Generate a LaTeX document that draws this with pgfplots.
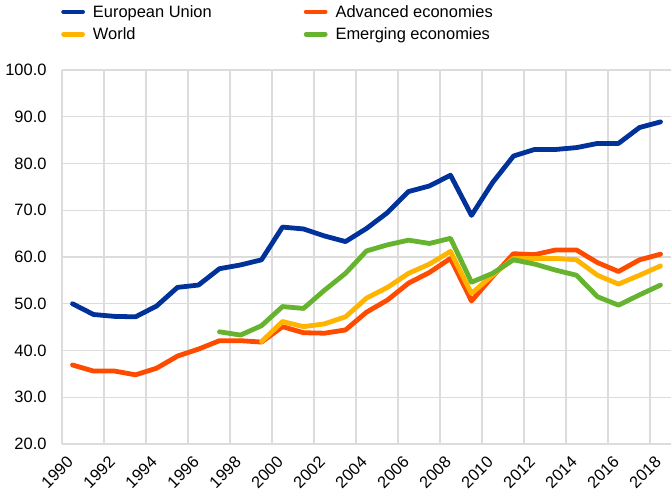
\documentclass[border=0pt]{standalone}
\usepackage{pgfplots}
\pgfplotsset{compat=1.18}
\usepackage{fontspec}
\setmainfont{Liberation Sans}
\definecolor{eublue}{HTML}{003299}
\definecolor{advorange}{HTML}{FF4B00}
\definecolor{worldyellow}{HTML}{FFB400}
\definecolor{emggreen}{HTML}{65B32E}
\definecolor{gridgray}{RGB}{220,220,220}
\begin{document}
\begin{tikzpicture}
\path[use as bounding box] (-62bp,-50bp) rectangle (610bp,444bp);
\begin{axis}[
  at={(0,0)}, anchor=south west,
  scale only axis, width=609bp, height=374bp,
  xmin=1989.5, xmax=2018.5, ymin=20, ymax=100,
  font=\fontsize{16.5}{19}\selectfont,
  axis line style={draw=none},
  xtick={1990,1992,...,2018},
  minor xtick={1989.5,1991.5,...,2017.5},
  xminorgrids=true, xmajorgrids=false,
  ytick={20,30,...,100},
  ymajorgrids=true,
  major tick length=0pt, minor tick length=0pt,
  grid style={draw=gridgray, line width=1.3bp},
  minor grid style={draw=gridgray, line width=1.3bp},
  /pgf/number format/assume math mode=true,
  yticklabel style={/pgf/number format/fixed, /pgf/number format/fixed zerofill, /pgf/number format/precision=1, xshift=-12bp},
  xticklabel style={/pgf/number format/1000 sep={}, xshift=0bp, yshift=-13bp, rotate=45, anchor=east},
  legend columns=2,
  legend cell align=left,
  legend style={at={(axis description cs:0,1)}, anchor=north west, xshift=-1bp, yshift=67bp,
    draw=none, fill=none, inner sep=0pt, row sep=5bp,
    font=\fontsize{16.5}{19}\selectfont,
    /tikz/every odd column/.append style={column sep=6bp},
    /tikz/every even column/.append style={column sep=90bp}},
  legend image code/.code={\draw[line width=4.8bp] (0bp,0bp) -- (19bp,0bp);},
  every axis plot/.append style={line width=4.8bp, line join=round, line cap=round},
]
\addplot[eublue] coordinates {
(1990,50.0)(1991,47.7)(1992,47.3)(1993,47.2)(1994,49.5)(1995,53.5)(1996,54.0)(1997,57.5)(1998,58.3)(1999,59.4)
(2000,66.4)(2001,66.0)(2002,64.5)(2003,63.3)(2004,66.1)(2005,69.5)(2006,74.0)(2007,75.2)(2008,77.5)(2009,68.9)
(2010,75.9)(2011,81.6)(2012,83.0)(2013,83.0)(2014,83.4)(2015,84.3)(2016,84.3)(2017,87.7)(2018,88.9)};
\addlegendentry{European Union}
\addplot[advorange] coordinates {
(1990,36.9)(1991,35.6)(1992,35.6)(1993,34.8)(1994,36.2)(1995,38.8)(1996,40.3)(1997,42.1)(1998,42.1)(1999,41.8)
(2000,45.1)(2001,43.8)(2002,43.7)(2003,44.4)(2004,48.2)(2005,50.8)(2006,54.4)(2007,56.7)(2008,59.7)(2009,50.6)
(2010,55.8)(2011,60.7)(2012,60.5)(2013,61.5)(2014,61.5)(2015,58.8)(2016,56.9)(2017,59.4)(2018,60.6)};
\addlegendentry{Advanced economies}
\addplot[worldyellow] coordinates {
(1999,41.9)(2000,46.2)(2001,45.1)(2002,45.7)(2003,47.2)(2004,51.2)(2005,53.5)(2006,56.5)(2007,58.5)(2008,61.2)(2009,52.2)
(2010,56.1)(2011,59.7)(2012,59.7)(2013,59.7)(2014,59.4)(2015,56.1)(2016,54.2)(2017,56.1)(2018,58.1)};
\addlegendentry{World}
\addplot[emggreen] coordinates {
(1997,44.0)(1998,43.3)(1999,45.3)(2000,49.4)(2001,49.0)(2002,52.9)(2003,56.5)(2004,61.3)(2005,62.6)(2006,63.6)(2007,62.9)(2008,64.0)(2009,54.6)
(2010,56.5)(2011,59.4)(2012,58.5)(2013,57.2)(2014,56.1)(2015,51.5)(2016,49.7)(2017,51.9)(2018,54.0)};
\addlegendentry{Emerging economies}
\end{axis}
\end{tikzpicture}
\end{document}
